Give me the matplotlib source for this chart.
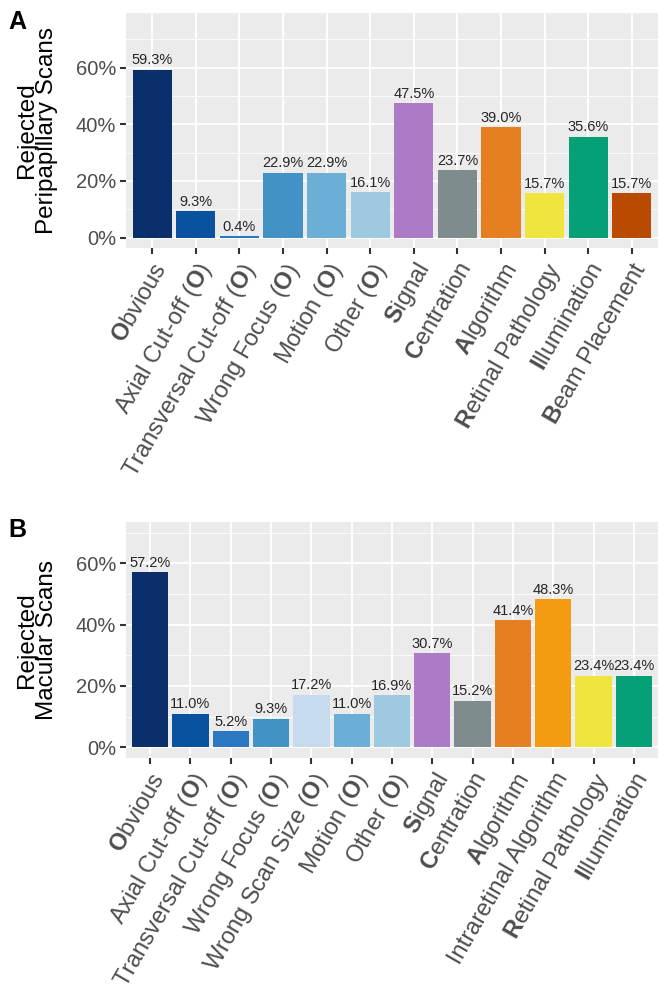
import matplotlib
matplotlib.use("Agg")
import matplotlib.pyplot as plt
import numpy as np

plt.rcParams['font.family'] = ['Liberation Sans', 'DejaVu Sans']
plt.rcParams['mathtext.fontset'] = 'custom'
plt.rcParams['mathtext.rm'] = 'Liberation Sans'
plt.rcParams['mathtext.bf'] = 'Liberation Sans:bold'

# Panel A data
cats_a = [r"$\mathbf{O}$bvious", r"Axial Cut-off ($\mathbf{O}$)", r"Transversal Cut-off ($\mathbf{O}$)",
          r"Wrong Focus ($\mathbf{O}$)", r"Motion ($\mathbf{O}$)", r"Other ($\mathbf{O}$)",
          r"$\mathbf{S}$ignal", r"$\mathbf{C}$entration", r"$\mathbf{A}$lgorithm",
          r"$\mathbf{R}$etinal Pathology", r"$\mathbf{I}$llumination", r"$\mathbf{B}$eam Placement"]
vals_a = [59.3, 9.3, 0.4, 22.9, 22.9, 16.1, 47.5, 23.7, 39.0, 15.7, 35.6, 15.7]
cols_a = ["#0B2F6B", "#0A52A0", "#2B78C2", "#4292C6", "#6BAED6", "#9ECAE1",
          "#AC7AC7", "#7F8C8D", "#E67E22", "#F0E43E", "#05A075", "#BA4A00"]

# Panel B data
cats_b = [r"$\mathbf{O}$bvious", r"Axial Cut-off ($\mathbf{O}$)", r"Transversal Cut-off ($\mathbf{O}$)",
          r"Wrong Focus ($\mathbf{O}$)", r"Wrong Scan Size ($\mathbf{O}$)", r"Motion ($\mathbf{O}$)",
          r"Other ($\mathbf{O}$)", r"$\mathbf{S}$ignal", r"$\mathbf{C}$entration", r"$\mathbf{A}$lgorithm",
          r"Intraretinal Algorithm", r"$\mathbf{R}$etinal Pathology", r"$\mathbf{I}$llumination"]
vals_b = [57.2, 11.0, 5.2, 9.3, 17.2, 11.0, 16.9, 30.7, 15.2, 41.4, 48.3, 23.4, 23.4]
cols_b = ["#0B2F6B", "#0A52A0", "#2B78C2", "#4292C6", "#C6DBEF", "#6BAED6", "#9ECAE1",
          "#AC7AC7", "#7F8C8D", "#E67E22", "#F39C12", "#F0E43E", "#05A075"]

ylabels = ["Rejected\nPeripapillary Scans", "Rejected\nMacular Scans"]
yticks = [0, 20, 40, 60]

fig = plt.figure(figsize=(6.65, 9.93), dpi=100)
W, H = 665, 993

def panel(rect_px, cats, vals, cols, ylim, ylabel, letter, letter_pos):
    l, t, r, b = rect_px
    ax = fig.add_axes([l / W, 1 - b / H, (r - l) / W, (b - t) / H])
    ax.set_facecolor("#EBEBEB")
    x = np.arange(len(cats))
    ax.bar(x, vals, width=0.9, color=cols, zorder=3, linewidth=0)
    for xi, v in zip(x, vals):
        ax.text(xi, v + 0.8, f"{v:.1f}%", ha="center", va="bottom", fontsize=10.5,
                color="#262626", zorder=4)
    ax.set_xlim(-0.6, len(cats) - 0.4)
    ax.set_ylim(*ylim)
    ax.set_yticks(yticks)
    ax.set_yticklabels([f"{v}%" for v in yticks])
    ax.set_yticks([10, 30, 50, 70], minor=True)
    ax.set_xticks(x)
    ax.set_xticklabels(cats, rotation=60, ha="right", va="top", rotation_mode="anchor")
    ax.grid(True, which="major", color="white", linewidth=1.3, zorder=0)
    ax.grid(True, which="minor", axis="y", color="white", linewidth=0.6, zorder=0)
    ax.tick_params(axis="y", which="major", labelsize=14.5, labelcolor="#4D4D4D",
                   color="#333333", length=4, width=1.5, pad=3)
    ax.tick_params(axis="x", which="major", labelsize=17, labelcolor="#4D4D4D",
                   color="#333333", length=4, width=1.5, pad=4)
    ax.tick_params(axis="y", which="minor", length=0)
    for s in ax.spines.values():
        s.set_visible(False)
    ax.set_axisbelow(True)
    ax.set_ylabel(ylabel, fontsize=17.5, color="black", linespacing=0.9)
    ax.yaxis.set_label_coords(-0.128, 0.5)
    fig.text(letter_pos[0] / W, 1 - letter_pos[1] / H, letter, fontsize=18,
             fontweight="bold", ha="left", va="top")
    return ax

panel((126, 13, 658, 248), cats_a, vals_a, cols_a, (-3.7, 79.3), ylabels[0], "A", (8, 10))
panel((126, 522, 658, 758), cats_b, vals_b, cols_b, (-3.5, 73.5), ylabels[1], "B", (8, 518))

fig.savefig("out.png", dpi=100)
